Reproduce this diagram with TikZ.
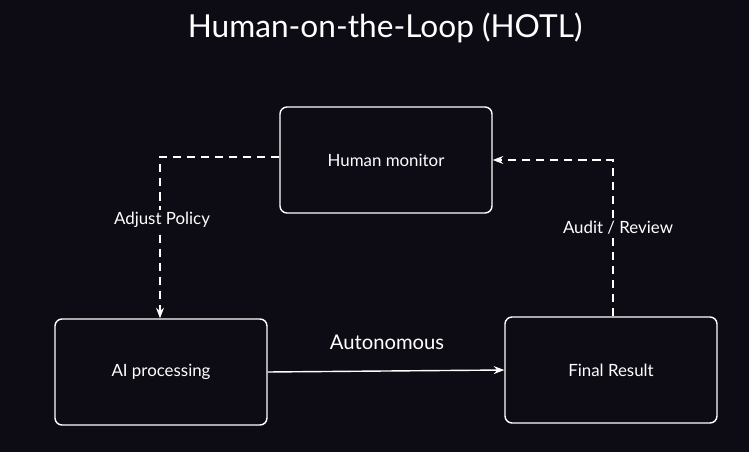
\documentclass[tikz,border=0pt]{standalone}
\usepackage{fontspec}
\setmainfont{Lato}
\usetikzlibrary{positioning,arrows.meta}
\definecolor{bgdark}{HTML}{0D0B14}
\tikzset{
  box/.style={draw=white, very thick, rounded corners=6pt, minimum width=212*0.03cm, minimum height=106*0.03cm, text=white, font=\Large},
  link/.style={draw=white, very thick, -{Stealth[length=9pt]}},
  dashlink/.style={link, dash pattern=on 7pt off 5pt},
  lbl/.style={text=white, fill=bgdark, font=\Large, inner sep=2pt}
}
\begin{document}
\begin{tikzpicture}[x=0.03cm, y=-0.03cm]
  \fill[bgdark] (0,0) rectangle (749,452);
  \node[text=white, font=\fontsize{27}{31}\selectfont] (title) at (385,28) {Human-on-the-Loop (HOTL)};
  % boxes
  \node[box] (human) at (386,160) {Human monitor};
  \node[box] (ai) at (161,372) {AI processing};
  \node[box] (final) at (611,370) {Final Result};
  % connectors
  \coordinate (tl) at (160,157);
  \coordinate (tr) at (613,160);
  \draw[dashlink] (human.west |- tl) -- (tl) -- (ai.north -| tl);
  \draw[dashlink] (final.north -| tr) -- (tr) -- (human.east |- tr);
  \draw[link] (ai.east) -- (final.west);
  % labels
  \node[lbl] (adjust) at (162,220) {Adjust Policy};
  \node[lbl] (audit) at (618,228) {Audit / Review};
  \node[text=white, font=\LARGE] (auto) at (387,342) {Autonomous};
\end{tikzpicture}
\end{document}
